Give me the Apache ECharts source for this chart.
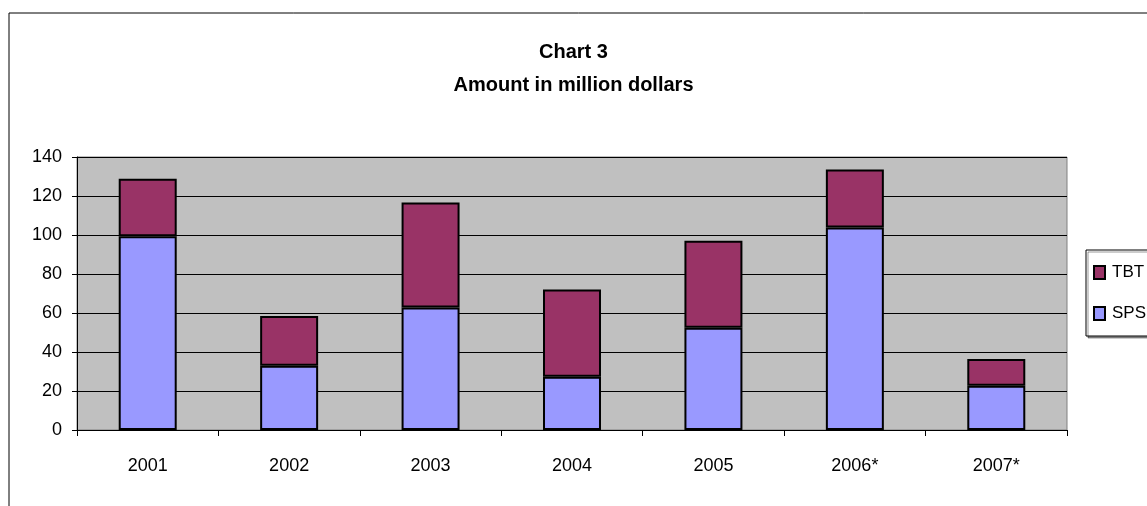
<!DOCTYPE html>
<html><head><meta charset="utf-8">
<script src="https://cdn.jsdelivr.net/npm/echarts@6/dist/echarts.min.js"></script>
<style>html,body{margin:0;padding:0;background:#fff}#c{width:1147px;height:506px}</style>
</head><body><div id="c"></div>
<script>
const categories = ['2001','2002','2003','2004','2005','2006*','2007*'];
const sps = [99.4, 33, 62.8, 27.3, 52.4, 103.8, 22.7];
const tbt = [29.5, 25.4, 53.9, 44.7, 44.6, 29.8, 13.7];
const yTicks = {min: 0, max: 140, interval: 20};

const font = 'Liberation Sans, Arial, sans-serif';
const chart = echarts.init(document.getElementById('c'), null, {renderer: 'canvas'});
chart.setOption({
  animation: false,
  backgroundColor: '#fff',
  title: {
    text: 'Chart 3\nAmount in million dollars',
    left: 'center', top: 31,
    textStyle: {fontFamily: font, fontSize: 20, fontWeight: 'bold', color: '#000', lineHeight: 33}
  },
  graphic: [{
    type: 'rect', shape: {x: 9, y: 13, width: 1200, height: 600},
    style: {fill: 'none', stroke: '#000', lineWidth: 1}, z: -1, silent: true
  }],
  legend: {
    data: ['TBT', 'SPS'],
    orient: 'vertical',
    left: 1086, top: 250,
    itemWidth: 11, itemHeight: 13, itemGap: 24,
    icon: 'rect',
    padding: [14, 40, 14, 7],
    borderColor: '#000', borderWidth: 1,
    backgroundColor: '#fff',
    shadowColor: 'rgba(0,0,0,0.4)', shadowOffsetX: 2, shadowOffsetY: 2,
    textStyle: {fontFamily: font, fontSize: 17, color: '#000', padding: [0, 0, 0, 2]}
  },
  grid: {
    left: 77, right: 80, top: 157, bottom: 76,
    show: true, backgroundColor: '#C0C0C0', borderColor: '#808080', borderWidth: 1
  },
  xAxis: {
    type: 'category', data: categories,
    axisLine: {lineStyle: {color: '#000', width: 1}},
    axisTick: {show: true, length: 6, lineStyle: {color: '#000'}},
    axisLabel: {fontFamily: font, fontSize: 18, color: '#000', margin: 27}
  },
  yAxis: {
    type: 'value', min: yTicks.min, max: yTicks.max, interval: yTicks.interval,
    axisLine: {show: true, lineStyle: {color: '#000', width: 1}},
    axisTick: {show: true, length: 5, lineStyle: {color: '#000'}},
    axisLabel: {fontFamily: font, fontSize: 18, color: '#000', margin: 15},
    splitLine: {show: true, lineStyle: {color: '#000', width: 1}}
  },
  series: [
    {name: 'SPS', type: 'bar', stack: 'a', data: sps, barWidth: '41%',
     itemStyle: {color: '#9999FF', borderColor: '#000', borderWidth: 2}},
    {name: 'TBT', type: 'bar', stack: 'a', data: tbt, barWidth: '41%',
     itemStyle: {color: '#993366', borderColor: '#000', borderWidth: 2}}
  ]
});
</script></body></html>
